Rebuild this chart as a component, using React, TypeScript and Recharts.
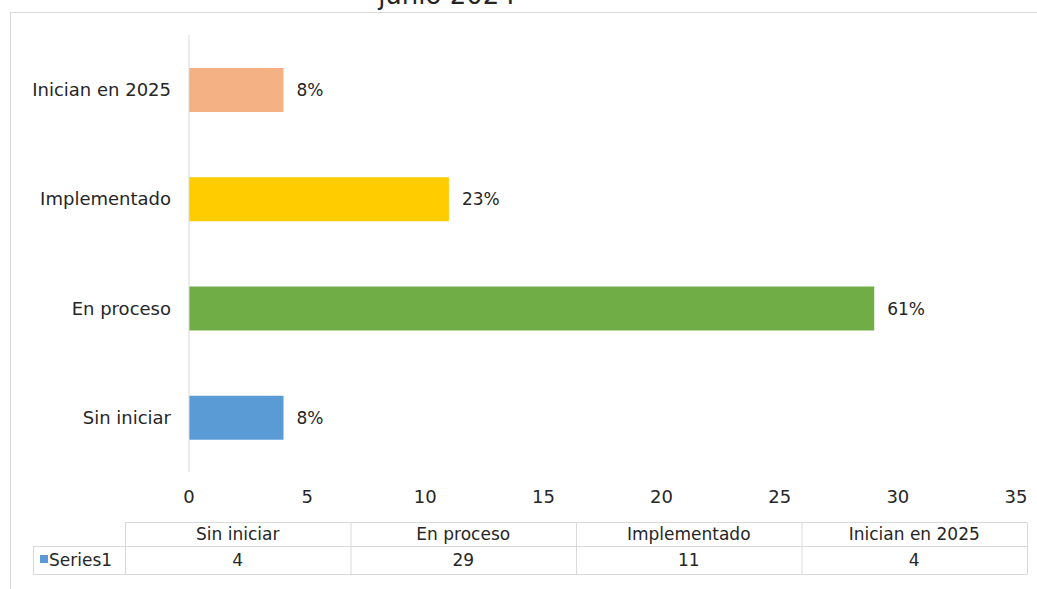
import React from 'react';
import { BarChart, Bar, XAxis, YAxis, Cell, LabelList, Customized } from 'recharts';

const categories = ['Sin iniciar', 'En proceso', 'Implementado', 'Inician en 2025'];
const values = [4, 29, 11, 4];
const percentLabels = ['8%', '61%', '23%', '8%'];
const colors = ['#5B9BD5', '#70AD47', '#FFCC00', '#F4B183'];
const xTicks = [0, 5, 10, 15, 20, 25, 30, 35];
const seriesName = 'Series1';
const titleText = 'junio 2024';

const data = categories.map((c, i) => ({ name: c, value: values[i], pct: percentLabels[i] }));

const FONT = '"DejaVu Sans", sans-serif';
const TEXT = '#262626';
const GRID = '#d9d9d9';
const FS = 18;

const DataTable = () => {
  const colX = [125, 350.5, 576, 801.5, 1027];
  const top = 522.5;
  const mid = 546.5;
  const bot = 574.5;
  const lines: React.ReactNode[] = [];
  lines.push(<line key="t" x1={125} x2={1027} y1={top} y2={top} stroke={GRID} />);
  lines.push(<line key="m" x1={33} x2={1027} y1={mid} y2={mid} stroke={GRID} />);
  lines.push(<line key="b" x1={33} x2={1027} y1={bot} y2={bot} stroke={GRID} />);
  lines.push(<line key="l" x1={33.5} x2={33.5} y1={mid} y2={bot} stroke={GRID} />);
  colX.forEach((x, i) => lines.push(<line key={'v' + i} x1={x + 0.5} x2={x + 0.5} y1={top} y2={bot} stroke={GRID} />));
  return (
    <g>
      {lines}
      {categories.map((c, i) => (
        <text key={'h' + i} x={(colX[i] + colX[i + 1]) / 2} y={535} textAnchor="middle" dominantBaseline="middle" fontSize={17} fill={TEXT} fontFamily={FONT}>{c}</text>
      ))}
      {values.map((v, i) => (
        <text key={'d' + i} x={(colX[i] + colX[i + 1]) / 2} y={561} textAnchor="middle" dominantBaseline="middle" fontSize={17} fill={TEXT} fontFamily={FONT}>{v}</text>
      ))}
      <rect x={40} y={555} width={8} height={8} fill={colors[0]} />
      <text x={49} y={561} dominantBaseline="middle" fontSize={17} fill={TEXT} fontFamily={FONT}>{seriesName}</text>
    </g>
  );
};

const Frame = () => (
  <g>
    <rect x={10.5} y={12.5} width={1100} height={700} fill="none" stroke={GRID} />
    <text x={447} y={4} textAnchor="middle" fontSize={26} fill={TEXT} fontFamily={FONT}>{titleText}</text>
  </g>
);

export default function App() {
  return (
    <div style={{ position: 'absolute', left: 0, top: 0, width: 1037, height: 589, background: '#fff' }}>
      <BarChart width={1037} height={589} data={data} layout="vertical" margin={{ top: 35, right: 21, left: 0, bottom: 87 }}>
        <Customized component={Frame} />
        <XAxis type="number" domain={[0, 35]} ticks={xTicks} axisLine={false} tickLine={false} height={30} tickMargin={12} interval={0}
          tick={{ fontSize: FS, fill: TEXT, fontFamily: FONT }} />
        <YAxis type="category" dataKey="name" reversed width={189} axisLine={{ stroke: GRID }} tickLine={false} tickMargin={12}
          tick={{ fontSize: FS, fill: TEXT, fontFamily: FONT }} />
        <Bar dataKey="value" barSize={44} isAnimationActive={false}>
          {data.map((d, i) => <Cell key={i} fill={colors[i]} />)}
          <LabelList dataKey="pct" position="right" offset={13} style={{ fontSize: 17, fill: TEXT, fontFamily: FONT }} />
        </Bar>
        <Customized component={DataTable} />
      </BarChart>
    </div>
  );
}
